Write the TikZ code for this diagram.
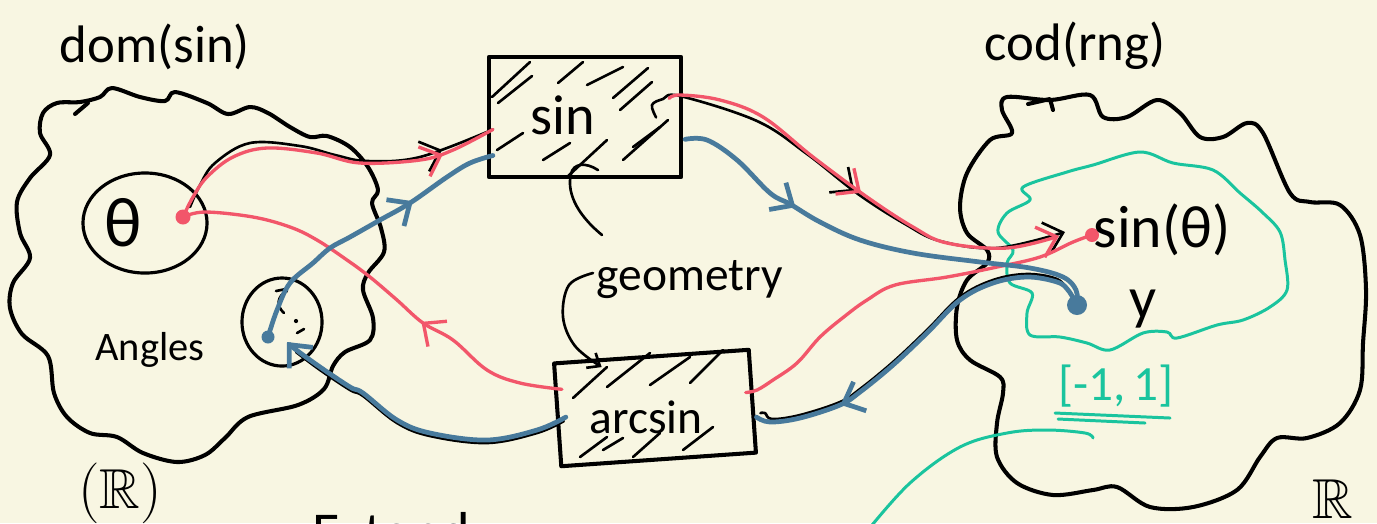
\documentclass[tikz,border=0pt]{standalone}
\usepackage{fontspec}
\setmainfont{Carlito}
\usepackage{amssymb}
\usetikzlibrary{arrows.meta,decorations.markings,calc,shapes.geometric}

\definecolor{paper}{RGB}{248,246,226}
\definecolor{inkred}{RGB}{242,86,106}
\definecolor{inkblue}{RGB}{72,122,156}
\definecolor{inkteal}{RGB}{26,196,158}

\tikzset{
  >={Straight Barb[length=5pt,width=9pt]},
  outline/.style={line width=1.15pt, line cap=round, line join=round},
  pen/.style={line width=0.75pt, line cap=round, line join=round},
  redpen/.style={inkred, line width=0.95pt, line cap=round, line join=round},
  bluepen/.style={inkblue, line width=1.35pt, line cap=round, line join=round},
  tealpen/.style={inkteal, line width=0.85pt, line cap=round, line join=round},
  midarrow/.style={postaction={decorate},
    decoration={markings, mark=at position #1 with {\arrow{>}}}},
  fnbox/.style={draw, outline, rectangle, inner sep=0pt},
  setring/.style={draw, pen, line width=0.9pt, ellipse, inner sep=0pt},
  inkdot/.style={circle, fill, inner sep=0pt, minimum size=#1},
  handtext/.style={inner sep=0pt, anchor=base, font=\fontsize{#1pt}{#1pt}\selectfont},
}

\begin{document}
\begin{tikzpicture}[x=0.01cm, y=-0.01cm]
\useasboundingbox (0,0) rectangle (1377,523);
\fill[paper] (0,0) rectangle (1377,523);
\clip (0,0) rectangle (1377,523);

% ---------- domain cloud ----------
\draw[outline] plot[smooth cycle, tension=0.55] coordinates {
  (57,103) (80,102) (100,97) (112,88) (140,97) (165,101) (175,92) (207,103)
  (228,114) (250,107) (268,113) (290,127) (310,137) (327,136) (350,147)
  (368,167) (378,190) (372,203) (381,228) (384,252) (368,273) (363,290)
  (373,318) (370,340) (345,352) (333,366) (324,389) (298,405) (248,417)
  (225,438) (205,455) (177,462) (143,453) (117,437) (90,433) (67,417)
  (54,393) (48,356) (22,334) (10,308) (13,283) (30,258) (20,233) (17,202)
  (30,178) (50,155) (40,133) (43,113)};
\draw[outline] (75,114) -- (88,103);

% ---------- codomain cloud ----------
\draw[outline] plot[smooth cycle, tension=0.55] coordinates {
  (1007,97) (1050,100) (1090,95) (1103,117) (1127,117) (1157,100) (1180,113)
  (1200,137) (1223,137) (1247,123) (1263,133) (1290,193) (1310,202) (1340,205)
  (1360,235) (1366,290) (1363,343) (1360,390) (1340,423) (1307,438) (1277,438)
  (1260,457) (1237,490) (1193,507) (1150,507) (1117,487) (1093,490) (1053,495)
  (1017,483) (997,457) (997,423) (1003,393) (1000,377) (970,360) (957,340)
  (957,307) (967,280) (987,263) (987,250) (967,233) (960,207) (967,173)
  (990,140) (1012,133) (1002,110)};
\draw[outline] (1028,104) -- (1050,99) -- (1053,110);

% ---------- range region ----------
\draw[tealpen] plot[smooth cycle, tension=0.55] coordinates {
  (1013,250) (998,232) (1007,213) (1030,200) (1023,187) (1067,172) (1093,165)
  (1140,152) (1173,163) (1213,170) (1240,193) (1262,212) (1280,232) (1285,260)
  (1287,290) (1270,307) (1243,320) (1217,325) (1177,338) (1167,332) (1143,333)
  (1110,350) (1087,343) (1060,337) (1030,335) (1027,313) (1032,293) (1010,283)
  (1007,263)};

% ---------- labels ----------
\node[handtext=15] (domlbl) at (155,62) {dom(sin)};
\node[handtext=15] (codlbl) at (1075,60) {cod(rng)};
\node[handtext=11.5] (angles) at (150,360) {Angles};
\node[handtext=16] (reals1) at (120,508) {$(\mathbb{R})$};
\node[handtext=16] (reals2) at (1333,518) {$\mathbb{R}$};
\node[handtext=16, anchor=base west] (extend) at (312,551) {Extend};

% ---------- sets of angles ----------
\node[setring, minimum width=1.24cm, minimum height=1.0cm] (thetaset) at (145,223) {};
\node[handtext=20] (theta) at (123,246) {θ};
\node[inkdot=0.15cm, inkred] (tdot) at (183,217) {};

\node[setring, minimum width=0.8cm, minimum height=0.88cm] (angset) at (282,322) {};
\node[inkdot=0.13cm, inkblue] (adot) at (268,337) {};
\draw[pen] (287,291) .. controls (277,296) and (276,306) .. (284,313);
\draw[pen] (276,291) -- (286,289);
\fill (296,321) circle[radius=0.6pt];
\draw[pen] (297,333) -- (304,329);

% ---------- function boxes ----------
\node[fnbox, minimum width=1.92cm, minimum height=1.2cm] (sin) at (585,117) {};
\node[handtext=16] (sinlbl) at (563,134) {sin};
\foreach \xa/\ya/\xb/\yb in {492/97/530/62, 498/103/532/76, 558/83/583/62,
  587/85/623/67, 613/98/648/68, 620/110/652/82, 497/150/523/133,
  543/160/570/143, 567/177/607/140, 623/160/668/120, 633/147/660/127}
  \draw[pen] (\xa,\ya) -- (\xb,\yb);

\node[fnbox, minimum width=1.95cm, minimum height=1.03cm, rotate=4] (arcsin) at (655,408) {};
\node[handtext=13.5] (arcsinlbl) at (646,433) {arcsin};
\foreach \xa/\ya/\xb/\yb in {573/398/607/367, 607/387/650/353, 650/385/690/357,
  690/383/723/350, 580/457/607/437, 603/450/623/438,
  633/457/660/433, 683/450/713/427}
  \draw[pen] (\xa,\ya) -- (\xb,\yb);

% ---------- codomain points ----------
\node[inkdot=0.14cm, inkred] (sdot) at (1092,235) {};
\node[handtext=17] (sinthlbl) at (1162,247) {sin(θ)};
\node[inkdot=0.2cm, inkblue] (ydot) at (1077,305) {};
\node[handtext=17] (ylbl) at (1143,318) {y};

\node[handtext=14, text=inkteal] (rng) at (1116,400) {[-1,\,1]};
\draw[tealpen] (1055,413) -- (1170,418);
\draw[tealpen] (1058,419) -- (1145,423);
\coordinate (tailend) at (868,530);
\draw[tealpen] plot[smooth, tension=0.6] coordinates {
  (tailend) (910,483) (960,447) (1007,433) (1047,430) (1085,433) (1093,438)};

% ---------- attachment points ----------
\coordinate (sinInR)  at ($(sin.north west)!0.6!(sin.south west)+(6,0)$);
\coordinate (sinInB)  at ($(sin.north west)!0.81!(sin.south west)+(6,0)$);
\coordinate (sinOutR) at ($(sin.north east)!0.35!(sin.south east)+(-14,0)$);
\coordinate (sinOutB) at ($(sin.north east)!0.68!(sin.south east)+(2,0)$);
\coordinate (asInR)   at ($(arcsin.north east)!0.42!(arcsin.south east)+(-8,0)$);
\coordinate (asInB)   at ($(arcsin.north east)!0.65!(arcsin.south east)+(1,0)$);
\coordinate (asOutR)  at ($(arcsin.north west)!0.26!(arcsin.south west)+(8,0)$);
\coordinate (asOutB)  at ($(arcsin.north west)!0.52!(arcsin.south west)+(10,0)$);
\coordinate (sthIn)   at ($(sdot)+(-33,1)$);
\coordinate (angIn)   at ($(angset.center)+(5,20)$);

% ---------- geometry note ----------
\node[handtext=13.5] (geom) at (690,290) {geometry};
\coordinate (gA) at (602,235);
\coordinate (gB) at (593,273);
\draw[pen] (gA) .. controls (574,212) and (567,190) .. ($(sin.south)+(-14,-5)$)
  .. controls (573,163) and (586,162) .. ($(sin.south)+(13,-9)$);
\draw[pen, -{Straight Barb[length=3pt,width=5pt]}] plot[smooth, tension=0.6] coordinates {
  (gB) (569,285) (563,317) (575,346) ($(arcsin.north west)!0.25!(arcsin.north east)+(0,9)$)};

% ---------- black pencil arrows underneath ----------
\draw[pen, midarrow=0.84] plot[smooth, tension=0.6] coordinates {
  ($(tdot)+(7,-10)$) (200,185) (215,163) (250,143) (300,146) (335,155) (367,161)
  (420,157) (sinInR)};
\draw[pen, ->, midarrow=0.52] plot[smooth, tension=0.6] coordinates {
  ($(sinOutR)+(-13,19)$) (652,105) (663,99) (680,96) (757,121) (807,154)
  (858,194) (905,224) (940,241) (997,248) ($(sthIn)+(6,-4)$)};
\draw[pen] plot[smooth, tension=0.6] coordinates {
  ($(ydot)+(-9,-14)$) (1057,279) (1027,274) (993,280) (960,297) (927,330)
  (893,362) (860,389) (840,402) (800,415) (772,419) (765,413) ($(asInB)+(4,-4)$)};
\draw[pen] plot[smooth, tension=0.6] coordinates {
  ($(asOutB)+(-2,4)$) (537,433) (487,443) (430,436) (397,423) (363,396)
  (350,390) (320,370) (296,352)};

% ---------- red: theta -> sin -> sin(theta) -> arcsin -> theta ----------
\draw[redpen, midarrow=0.84] plot[smooth, tension=0.6] coordinates {
  (tdot) (193,197) (207,177) (233,157) (267,148) (317,153) (360,163) (420,160)
  (453,150) (sinInR)};
\draw[redpen, ->, midarrow=0.51] plot[smooth, tension=0.6] coordinates {
  (sinOutR) (680,95) (720,100) (763,117) (813,157) (867,197) (913,227)
  (947,243) (1007,248) (sthIn)};
\draw[redpen] plot[smooth, tension=0.6] coordinates {
  (sdot) (1073,242) (1040,257) (997,267) (947,277) (895,285) (867,300)
  (845,316) (820,337) (797,363) (773,380) (757,390) (asInR)};
\draw[redpen, midarrow=0.37] plot[smooth, tension=0.6] coordinates {
  (asOutR) (520,383) (487,370) (453,340) (423,323) (397,300) (370,277)
  (347,260) (317,240) (290,227) (253,217) (205,212) (tdot)};

% ---------- blue: y -> arcsin -> angle -> sin -> y ----------
\draw[bluepen, midarrow=0.69] plot[smooth, tension=0.6] coordinates {
  (adot) (277,310) (290,283) (313,263) (330,248) (350,237) (380,220)
  (410,203) (447,177) (470,163) (sinInB)};
\draw[bluepen, midarrow=0.30] plot[smooth, tension=0.6] coordinates {
  (sinOutB) (707,140) (737,160) (770,193) (790,204) (820,222) (860,240)
  (913,253) (980,262) (1030,268) (1063,277) (1076,290) (ydot)};
\draw[bluepen, midarrow=0.77] plot[smooth, tension=0.6] coordinates {
  (ydot) (1068,290) (1057,282) (1027,277) (993,283) (960,300) (927,333)
  (893,365) (860,392) (840,405) (800,418) (770,422) (asInB)};
\draw[bluepen, ->] plot[smooth, tension=0.6] coordinates {
  (asOutB) (537,430) (487,440) (430,433) (397,420) (363,393) (350,387)
  (320,367) (295,349) (angIn)};
\end{tikzpicture}
\end{document}
